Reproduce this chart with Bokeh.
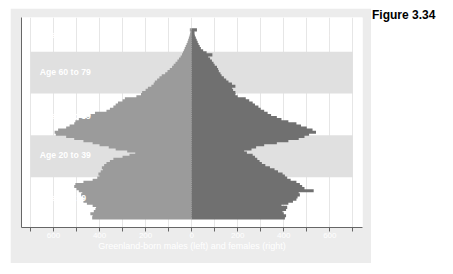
from bokeh.plotting import figure
from bokeh.models import Range1d, FixedTicker, Div, ColumnDataSource
from bokeh.layouts import row
from bokeh.core.properties import value
from bokeh.embed import file_html
from bokeh.resources import INLINE

# ---------------- data ----------------
ages = list(range(0, 91))
males = [432, 430, 440, 425, 418, 415, 430, 455, 470, 465,
         470, 480, 475, 490, 500, 510, 505, 470, 430, 410,
         400, 405, 395, 385, 390, 380, 370, 355, 340, 300,
         270, 245, 280, 330, 360, 400, 430, 470, 510, 545,
         590, 595, 580, 545, 530, 510, 505, 490, 455, 440,
         420, 370, 355, 340, 330, 320, 300, 290, 240, 220,
         215, 200, 190, 175, 165, 160, 150, 140, 130, 115,
         105, 95, 85, 78, 70, 62, 55, 48, 42, 38,
         34, 30, 26, 22, 18, 15, 12, 9, 7, 5, 8]
females = [405, 410, 400, 395, 410, 415, 390, 420, 440, 455,
           460, 470, 465, 530, 490, 480, 470, 455, 430, 415,
           405, 395, 375, 360, 340, 320, 305, 295, 285, 275,
           265, 240, 228, 260, 280, 315, 370, 420, 465, 490,
           510, 540, 525, 500, 475, 455, 420, 390, 370, 345,
           330, 315, 300, 290, 275, 265, 250, 235, 200, 190,
           190, 180, 175, 190, 175, 160, 150, 140, 130, 125,
           118, 115, 110, 100, 95, 88, 80, 72, 90, 65,
           50, 40, 35, 30, 26, 22, 18, 14, 12, 12, 23]

band_start = [20, 60]
band_end = [40, 80]
band_left = [-700, -700]
band_right = [700, 700]

group_labels = ["Age 0 to 19", "Age 20 to 39", "Age 40 to 59", "Age 60 to 79", "Age 80+"]
group_label_y = [10, 30.5, 49.3, 70.2, 88]
group_label_x = [-660, -660, -660, -660, -660]

year_label = ["2006"]
year_x = [550]
year_y = [88.5]

major_ticks = [-600, -400, -200, 0, 200, 400, 600]
major_tick_labels = ["600", "400", "200", "0", "200", "400", "600"]
minor_ticks = [-700, -500, -300, -100, 100, 300, 500, 700]

x_title = "Greenland-born males (left) and females (right)"
fig_caption = "Figure 3.34"

# ---------------- styling ----------------
FONT = "Liberation Sans"
OUTER = "#ececec"
BAND = "#e0e0e0"
MALE = "#9b9b9b"
FEMALE = "#707070"
GRID = "#e6e6e6"
AXIS = "#666666"

bar_src = ColumnDataSource(dict(
    y=[a + 0.5 for a in ages],
    mleft=[-m for m in males],
    fright=females,
    zero=[0] * len(ages),
))

p = figure(width=361, height=255, output_backend="svg", toolbar_location=None,
           x_range=Range1d(-739, 742), y_range=Range1d(-4.1, 96.4),
           min_border_left=11, min_border_right=9, min_border_top=9,
           min_border_bottom=36)
p.margin = (8, 0, 0, 10)
p.background_fill_color = "white"
p.border_fill_color = OUTER
p.outline_line_color = None

# grid
p.ygrid.grid_line_color = None
p.xgrid.grid_line_color = GRID
p.xgrid.minor_grid_line_color = GRID
p.xgrid.grid_line_width = 1

# bands
p.quad(left=band_left, right=band_right, bottom=band_start, top=band_end,
       fill_color=BAND, line_color=None)

# bars (vertical overlap of about one pixel avoids anti-aliasing seams)
p.hbar(y="y", height=1.5, left="mleft", right="zero", source=bar_src,
       fill_color=MALE, line_color=None)
p.hbar(y="y", height=1.5, left="zero", right="fright", source=bar_src,
       fill_color=FEMALE, line_color=None)

# texts
p.text(x=group_label_x, y=group_label_y, text=group_labels,
       text_font=value(FONT), text_font_size="8.7px", text_font_style="bold",
       text_color="white", text_align="left", text_baseline="middle")
p.text(x=year_x, y=year_y, text=year_label,
       text_font=value(FONT), text_font_size="10px",
       text_color="white", text_align="center", text_baseline="middle")

# x axis
p.xaxis.ticker = FixedTicker(ticks=major_ticks, minor_ticks=minor_ticks)
p.xaxis.major_label_overrides = {t: l for t, l in zip(major_ticks, major_tick_labels)}
p.xaxis.axis_line_color = AXIS
p.xaxis.major_tick_line_color = AXIS
p.xaxis.minor_tick_line_color = AXIS
p.xaxis.major_tick_in = 0
p.xaxis.major_tick_out = 4
p.xaxis.minor_tick_in = 0
p.xaxis.minor_tick_out = 4
p.xaxis.major_label_text_color = "white"
p.xaxis.major_label_text_font = FONT
p.xaxis.major_label_text_font_size = "8px"
p.xaxis.major_label_standoff = 1
p.xaxis.axis_label = x_title
p.xaxis.axis_label_text_color = "white"
p.xaxis.axis_label_text_font = FONT
p.xaxis.axis_label_text_font_size = "9px"
p.xaxis.axis_label_text_font_style = "normal"
p.xaxis.axis_label_standoff = 0

# y axis: line only
p.yaxis.ticker = FixedTicker(ticks=[])
p.yaxis.axis_line_color = AXIS
p.yaxis.major_tick_line_color = None
p.yaxis.minor_tick_line_color = None
p.yaxis.major_label_text_font_size = "0px"
p.yaxis.major_label_standoff = 0
p.yaxis.major_tick_out = 0

cap = Div(text=fig_caption, width=80, height=20, margin=(8, 0, 0, 1),
          styles={"font-family": FONT, "font-size": "12px", "font-weight": "bold",
                  "color": "black", "line-height": "14px"})

layout = row(p, cap)
open("out.html", "w").write(file_html(layout, INLINE))
